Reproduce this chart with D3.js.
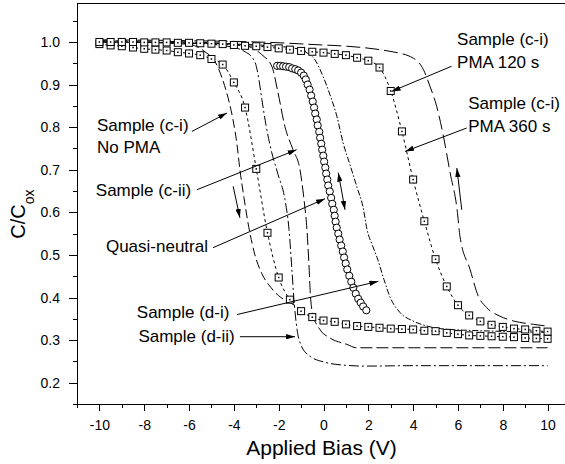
<!DOCTYPE html>
<html>
<head>
<meta charset="utf-8">
<script src="https://cdn.jsdelivr.net/npm/d3@7"></script>
<style>
body { margin: 0; background: #fff; }
svg { display: block; font-family: "Liberation Sans", Arial, sans-serif; }
.axis text { font-size: 14px; fill: #000; font-family: "Liberation Sans", Arial, sans-serif; }
.axis path, .axis line { stroke: #000; shape-rendering: crispEdges; }
.note { font-size: 17px; fill: #000; }
</style>
</head>
<body>
<div id="chart"></div>
<script>
var w = 565;
var h = 464;

// square series, 0.5 V steps
var stepBias = [-10,-9.5,-9,-8.5,-8,-7.5,-7,-6.5,-6,-5.5,-5,-4.5,-4,-3.5,-3,-2.5,-2,-1.5,-1,-0.5,
  0,0.5,1,1.5,2,2.5,3,3.5,4,4.5,5,5.5,6,6.5,7,7.5,8,8.5,9,9.5,10];
var ciiSquares = [0.995,0.992,0.99,0.987,0.984,0.982,0.98,0.976,0.973,0.969,0.96,0.947,0.905,0.846,0.702,0.552,
  0.447,0.395,0.368,0.354,0.346,0.343,0.337,0.333,0.331,0.329,0.327,0.326,0.325,0.322,0.321,0.317,0.314,0.311,
  0.31,0.309,0.308,0.307,0.305,0.304,0.303];
var pmaSquares = [1.0,1.0,1.0,1.0,0.999,0.999,0.999,0.998,0.998,0.997,0.996,0.995,0.993,0.991,0.99,0.988,0.985,
  0.982,0.979,0.977,0.975,0.972,0.969,0.963,0.956,0.94,0.885,0.79,0.677,0.579,0.49,0.426,0.382,0.358,0.344,
  0.336,0.331,0.327,0.325,0.322,0.32];

// quasi-neutral circles
var quasiBias = [-2.07,-1.93,-1.8,-1.67,-1.53,-1.4,-1.26,-1.13,-1.0,-0.88,-0.79,-0.71,-0.62,-0.55,-0.48,-0.42,
  -0.37,-0.3,-0.26,-0.19,-0.15,-0.1,-0.06,-0.01,0.03,0.08,0.12,0.17,0.21,0.28,0.34,0.39,0.46,0.5,0.54,0.59,
  0.66,0.72,0.79,0.86,0.92,0.99,1.06,1.15,1.24,1.33,1.44,1.55,1.66,1.77,1.91];
var quasiC = [0.944,0.944,0.943,0.942,0.941,0.938,0.936,0.933,0.928,0.921,0.912,0.9,0.888,0.874,0.86,0.846,
  0.832,0.818,0.804,0.789,0.775,0.761,0.747,0.733,0.719,0.705,0.691,0.677,0.663,0.649,0.634,0.62,0.606,0.592,
  0.578,0.564,0.55,0.536,0.522,0.508,0.494,0.48,0.466,0.451,0.437,0.423,0.409,0.397,0.388,0.379,0.37];

// plain curves
var noPmaBias = [-10,-8,-6.85,-5.96,-5.29,-4.84,-4.53,-4.26,-4.04,-3.86,-3.73,-3.55,-3.33,-3.06,-2.75,-2.34,-1.9,-1.49,-1.1];
var noPmaC = [1.0,0.999,0.997,0.994,0.977,0.954,0.916,0.869,0.818,0.759,0.7,0.635,0.564,0.5,0.456,0.423,0.4,0.388,0.375];
var diiBias = [-10,-7,-5.5,-4.4,-3.5,-3.06,-2.88,-2.75,-2.57,-2.34,-2.03,-1.72,-1.54,-1.41,-1.32,-1.18,-1.0,-0.6,0.07,0.96,1.85,4,7,10];
var diiC = [1.0,0.998,0.996,0.991,0.977,0.953,0.911,0.865,0.806,0.747,0.689,0.63,0.56,0.466,0.396,0.325,0.288,0.262,0.248,0.241,0.239,0.24,0.24,0.24];
var ciiBias = [-10,-6,-3.73,-2.75,-2.3,-2.03,-1.72,-1.36,-1.05,-0.87,-0.74,-0.65,-0.58,-0.47,-0.16,0.29,1.04,1.48,4,7,10];
var ciiC = [1.003,1.0,0.994,0.97,0.942,0.881,0.801,0.747,0.7,0.63,0.56,0.478,0.402,0.36,0.325,0.305,0.29,0.282,0.282,0.282,0.282];
var diBias = [-10,-4,-1.5,-0.83,-0.38,-0.02,0.29,0.6,0.87,1.18,1.5,1.77,1.94,2.17,2.39,2.7,2.97,3.41,3.99,4.62,5.2,7,8.5,10];
var diC = [1.0,0.995,0.987,0.977,0.958,0.919,0.876,0.825,0.764,0.712,0.658,0.611,0.56,0.524,0.494,0.442,0.401,0.365,0.345,0.333,0.327,0.322,0.32,0.318];
var pma360Bias = [-10,-6,-1.94,-0.47,1.04,2.52,2.97,4.01,4.46,4.75,5.05,5.35,5.65,5.96,6.09,6.54,6.91,7.29,7.88,8.47,9.37,9.96];
var pma360C = [1.005,1.003,0.998,0.994,0.99,0.982,0.978,0.962,0.935,0.896,0.849,0.779,0.693,0.607,0.544,0.466,0.403,0.376,0.356,0.345,0.337,0.333];

var xTicks = [-10,-8,-6,-4,-2,0,2,4,6,8,10];
var xMinor = [-11,-9,-7,-5,-3,-1,1,3,5,7,9];
var yTicks = [0.2,0.3,0.4,0.5,0.6,0.7,0.8,0.9,1.0];
var yMinor = [0.15,0.25,0.35,0.45,0.55,0.65,0.75,0.85,0.95,1.05];

var margin = {top: 3, left: 77};
var innerW = 493,
 innerH = 401;

var x = d3.scaleLinear()
  .domain([-11, 11])
  .range([0, innerW]);
var y = d3.scaleLinear()
  .domain([0.15, 1.0915])
  .range([innerH, 0]);

function zip(a, b) {
  return a.map(function(v, i){return [v, b[i]];});
}

var svg = d3.select('#chart')
  .append('svg')
    .attr('width', w)
    .attr('height', h)
  .append('g')
    .attr('transform', 'translate(' + [margin.left, margin.top] + ')');

var defs = svg.append('defs');
defs.append('marker')
  .attr('id', 'head')
  .attr('viewBox', '0 0 10 6')
  .attr('refX', 10)
  .attr('refY', 3)
  .attr('markerWidth', 9)
  .attr('markerHeight', 5.4)
  .attr('markerUnits', 'userSpaceOnUse')
  .attr('orient', 'auto-start-reverse')
  .append('path')
    .attr('d', 'M0,0L10,3L0,6z')
    .attr('fill', '#000');

// frame top
svg.append('line')
  .attr('x1', 0).attr('x2', innerW)
  .attr('y1', 0.5).attr('y2', 0.5)
  .attr('stroke', '#000');

var xAxisG = svg.append('g')
  .attr('class', 'x axis')
  .attr('transform', 'translate(0,' + innerH + ')')
  .call(d3.axisBottom(x).tickValues(xTicks).tickSize(7).tickSizeOuter(0).tickPadding(9)
    .tickFormat(function(d){return String(d);}));
svg.append('g')
  .attr('class', 'x axis')
  .attr('transform', 'translate(0,' + innerH + ')')
  .call(d3.axisBottom(x).tickValues(xMinor).tickSize(4).tickSizeOuter(0).tickFormat(''))
  .select('.domain').remove();

var yAxisG = svg.append('g')
  .attr('class', 'y axis')
  .call(d3.axisLeft(y).tickValues(yTicks).tickSize(8).tickSizeOuter(0).tickPadding(9)
    .tickFormat(d3.format('.1f')));
svg.append('g')
  .attr('class', 'y axis')
  .call(d3.axisLeft(y).tickValues(yMinor).tickSize(4).tickSizeOuter(0).tickFormat(''))
  .select('.domain').remove();

// axis titles
svg.append('text')
  .attr('x', x(0) - 2)
  .attr('y', 452)
  .attr('text-anchor', 'middle')
  .style('font-size', '21px')
  .text('Applied Bias (V)');

var yTitle = svg.append('text')
  .attr('transform', 'translate(' + (25 - margin.left) + ',' + 211 + ') rotate(-90)')
  .attr('text-anchor', 'middle')
  .style('font-size', '20px');
yTitle.append('tspan').text('C/C');
yTitle.append('tspan').attr('dy', 9).style('font-size', '14px').text('ox');

var line = d3.line()
  .x(function(d){return x(d[0]);})
  .y(function(d){return y(d[1]);})
  .curve(d3.curveMonotoneX);

var dashes = {noPma: '9,4', dii: '10,3,2,3', cii: '12,4', di: '6,2,1.5,2', pma360: '14,5', squares: '3,3'};
var curves = [
  {key: 'noPma', pts: zip(noPmaBias, noPmaC)},
  {key: 'dii', pts: zip(diiBias, diiC)},
  {key: 'cii', pts: zip(ciiBias, ciiC)},
  {key: 'di', pts: zip(diBias, diC)},
  {key: 'pma360', pts: zip(pma360Bias, pma360C)},
  {key: 'squares', pts: zip(stepBias, ciiSquares)},
  {key: 'squares', pts: zip(stepBias, pmaSquares)}
];

svg.selectAll('.curve')
  .data(curves)
  .enter().append('path')
    .attr('class', 'curve')
    .attr('d', function(d){return line(d.pts);})
    .attr('fill', 'none')
    .attr('stroke', '#000')
    .attr('stroke-width', 1)
    .attr('stroke-dasharray', function(d){return dashes[d.key];});

svg.selectAll('.circ')
  .data(zip(quasiBias, quasiC))
  .enter().append('circle')
    .attr('class', 'circ')
    .attr('cx', function(d){return x(d[0]);})
    .attr('cy', function(d){return y(d[1]);})
    .attr('r', 3.6)
    .attr('fill', '#fff')
    .attr('stroke', '#000');

var sq = svg.selectAll('.sq')
  .data(zip(stepBias, ciiSquares).concat(zip(stepBias, pmaSquares)))
  .enter().append('g')
    .attr('class', 'sq')
    .attr('transform', function(d){return 'translate(' + [x(d[0]), y(d[1])] + ')';});
sq.append('rect')
  .attr('x', -3.5).attr('y', -3.5)
  .attr('width', 7).attr('height', 7)
  .attr('fill', '#fff')
  .attr('stroke', '#000');
sq.append('rect')
  .attr('x', -0.75).attr('y', -0.75)
  .attr('width', 1.5).attr('height', 1.5)
  .attr('fill', '#000');

// labels with arrows, in data units
var notes = [
  {lines: ['Sample (c-i)', 'No PMA'], at: [-10.11, 0.806], from: [-5.87, 0.79], to: [-4.31, 0.833]},
  {lines: ['Sample (c-ii)'], at: [-10.16, 0.653], from: [-5.65, 0.653], to: [-1.2, 0.747]},
  {lines: ['Quasi-neutral'], at: [-9.71, 0.52], from: [-4.93, 0.517], to: [0.07, 0.632]},
  {lines: ['Sample (d-i)'], at: [-8.33, 0.365], from: [-3.86, 0.36], to: [2.45, 0.438]},
  {lines: ['Sample (d-ii)'], at: [-8.26, 0.309], from: [-3.73, 0.308], to: [-1.27, 0.308]},
  {lines: ['Sample (c-i)', 'PMA 120 s'], at: [5.96, 1.007], from: [5.72, 0.943], to: [3.04, 0.884]},
  {lines: ['Sample (c-i)', 'PMA 360 s'], at: [6.46, 0.857], from: [6.39, 0.798], to: [3.64, 0.743]}
];

var note = svg.selectAll('.note')
  .data(notes)
  .enter().append('g')
    .attr('class', 'note');
note.append('text')
  .attr('x', function(d){return x(d.at[0]);})
  .attr('y', function(d){return y(d.at[1]);})
  .each(function(d) {
    var t = d3.select(this);
    d.lines.forEach(function(s, i) {
      t.append('tspan')
        .attr('x', x(d.at[0]))
        .attr('dy', i === 0 ? '0.35em' : '1.35em')
        .text(s);
    });
  });
note.append('line')
  .attr('x1', function(d){return x(d.from[0]);})
  .attr('y1', function(d){return y(d.from[1]);})
  .attr('x2', function(d){return x(d.to[0]);})
  .attr('y2', function(d){return y(d.to[1]);})
  .attr('stroke', '#000')
  .attr('marker-end', 'url(#head)');

// sweep direction arrows
var sweeps = [
  {from: [-4.03, 0.661], to: [-3.73, 0.587], both: false},
  {from: [0.66, 0.693], to: [0.96, 0.606], both: true},
  {from: [6.17, 0.606], to: [5.95, 0.704], both: false}
];
svg.selectAll('.sweep')
  .data(sweeps)
  .enter().append('line')
    .attr('class', 'sweep')
    .attr('x1', function(d){return x(d.from[0]);})
    .attr('y1', function(d){return y(d.from[1]);})
    .attr('x2', function(d){return x(d.to[0]);})
    .attr('y2', function(d){return y(d.to[1]);})
    .attr('stroke', '#000')
    .attr('marker-end', 'url(#head)')
    .attr('marker-start', function(d){return d.both ? 'url(#head)' : null;});
</script>
</body>
</html>
